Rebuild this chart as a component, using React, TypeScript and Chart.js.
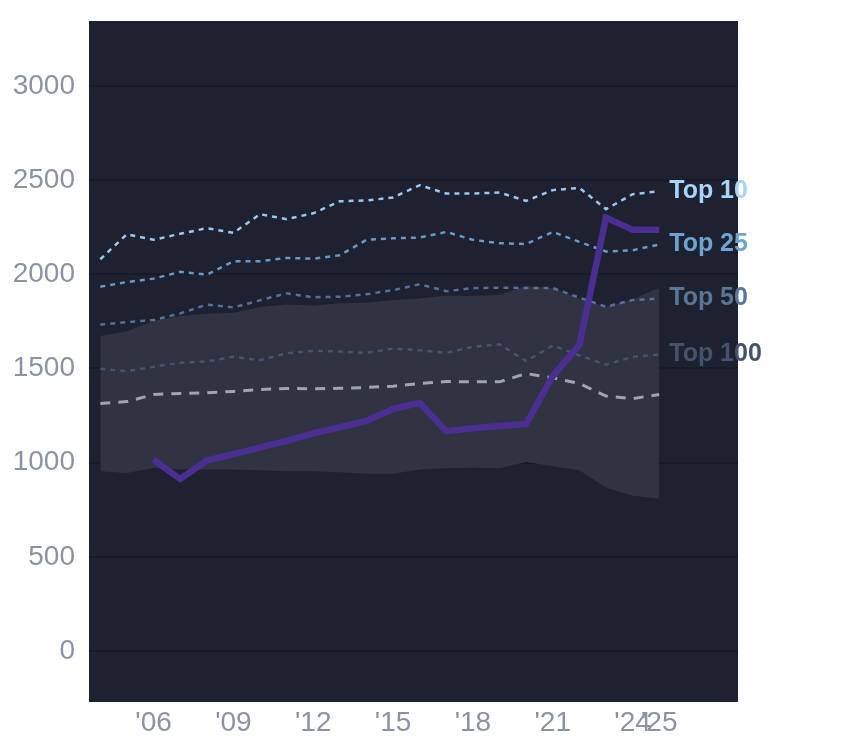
import { useEffect, useRef } from "react";
import { Chart, registerables } from "chart.js";

Chart.register(...registerables);

const years = [2004, 2005, 2006, 2007, 2008, 2009, 2010, 2011, 2012, 2013, 2014, 2015, 2016, 2017, 2018, 2019, 2020, 2021, 2022, 2023, 2024, 2025];
const xTicks = [2006, 2009, 2012, 2015, 2018, 2021, 2024, 2025];
const yTicks = [0, 500, 1000, 1500, 2000, 2500, 3000];

const top10 = [2080, 2213, 2183, 2215, 2245, 2220, 2319, 2293, 2324, 2388, 2392, 2408, 2473, 2429, 2429, 2434, 2390, 2447, 2459, 2346, 2425, 2441];
const top25 = [1934, 1959, 1977, 2013, 1998, 2069, 2069, 2087, 2083, 2101, 2183, 2191, 2195, 2225, 2183, 2165, 2161, 2225, 2172, 2121, 2128, 2158];
const top50 = [1733, 1746, 1757, 1792, 1839, 1824, 1862, 1899, 1878, 1881, 1894, 1916, 1947, 1910, 1927, 1929, 1927, 1927, 1876, 1828, 1863, 1871];
const top100 = [1498, 1486, 1509, 1530, 1537, 1562, 1544, 1580, 1594, 1590, 1583, 1605, 1597, 1583, 1615, 1628, 1539, 1622, 1569, 1520, 1562, 1574];
const median = [1314, 1324, 1362, 1367, 1371, 1378, 1388, 1394, 1392, 1395, 1399, 1406, 1420, 1431, 1429, 1429, 1473, 1450, 1420, 1353, 1340, 1362];
const bandHigh = [1672, 1697, 1752, 1778, 1791, 1796, 1826, 1839, 1835, 1846, 1849, 1863, 1871, 1888, 1885, 1892, 1938, 1927, 1871, 1828, 1867, 1929];
const bandLow = [954, 945, 972, 963, 963, 963, 959, 954, 954, 949, 941, 941, 963, 970, 973, 970, 1004, 981, 959, 867, 824, 810];
const selected = [null, null, 1016, 913, 1011, 1045, 1080, 1116, 1155, 1188, 1222, 1285, 1317, 1167, 1183, 1195, 1206, 1459, 1625, 2301, 2236, 2236];

const toPoints = (vals: (number | null)[]) => years.map((x, i) => ({ x, y: vals[i] }));

const bgPlugin = {
  id: "plotBg",
  beforeDraw(chart: any) {
    const { ctx, chartArea } = chart;
    ctx.save();
    ctx.fillStyle = "#1d2130";
    ctx.fillRect(chartArea.left, chartArea.top, chartArea.right - chartArea.left, chartArea.bottom - chartArea.top);
    ctx.restore();
  },
};

const endLabels = {
  id: "endLabels",
  afterDatasetsDraw(chart: any) {
    const ctx = chart.ctx;
    ctx.save();
    ctx.font = "bold 25px 'Liberation Sans', Arial, sans-serif";
    ctx.textAlign = "left";
    ctx.textBaseline = "middle";
    chart.data.datasets.forEach((ds: any, i: number) => {
      if (!ds.endLabel) return;
      const pts = chart.getDatasetMeta(i).data;
      const p = pts[pts.length - 1];
      ctx.fillStyle = ds.labelColor;
      ctx.fillText(ds.endLabel, p.x + 10, p.y);
    });
    ctx.restore();
  },
};

export default function App() {
  const canvasRef = useRef<HTMLCanvasElement>(null);

  useEffect(() => {
    if (!canvasRef.current) return;
    const dotted = (label: string, vals: number[], color: string, labelColor: string) => ({
      label,
      data: toPoints(vals),
      borderColor: color,
      borderWidth: 2.5,
      borderDash: [5, 5],
      pointRadius: 0,
      fill: false,
      order: 2,
      endLabel: label,
      labelColor,
    });

    const chart = new Chart(canvasRef.current, {
      type: "line",
      data: {
        datasets: [
          { label: "low", data: toPoints(bandLow), borderWidth: 0, borderColor: "transparent", pointRadius: 0, fill: false, order: 5 },
          { label: "high", data: toPoints(bandHigh), borderWidth: 0, borderColor: "transparent", backgroundColor: "#2f3342", pointRadius: 0, fill: "-1", order: 5 },
          dotted("Top 10", top10, "#98c8ee", "#a7d4f8"),
          dotted("Top 25", top25, "#6899c8", "#6fa4d0"),
          dotted("Top 50", top50, "#55709a", "#5a7596"),
          dotted("Top 100", top100, "#46536e", "#46526b"),
          { label: "median", data: toPoints(median), borderColor: "#9fa4b0", borderWidth: 3, borderDash: [10, 8], pointRadius: 0, fill: false, order: 2 },
          { label: "selected", data: toPoints(selected), borderColor: "#4b2e91", borderWidth: 6.5, pointRadius: 0, fill: false, order: 0, borderJoinStyle: "miter" },
        ] as any,
      },
      options: {
        responsive: true,
        maintainAspectRatio: false,
        animation: false,
        layout: { padding: { top: 21, right: 106, left: 0, bottom: 0 } },
        plugins: { legend: { display: false }, tooltip: { enabled: false } },
        scales: {
          x: {
            type: "linear",
            min: 2003.575,
            max: 2027.96,
            grid: { display: false, drawTicks: false },
            border: { display: false },
            afterBuildTicks: (axis: any) => { axis.ticks = xTicks.map((value) => ({ value })); },
            afterFit: (axis: any) => { axis.height = 46; axis.paddingLeft = 0; axis.paddingRight = 0; },
            ticks: {
              autoSkip: false,
              maxRotation: 0,
              padding: 4,
              color: "#8b93a3",
              font: { size: 28, family: "'Liberation Sans', Arial, sans-serif" },
              callback: (v: any) => "'" + String(v).slice(2),
            },
          },
          y: {
            min: -271,
            max: 3345,
            grid: { color: "#171b25", lineWidth: 2, drawTicks: false },
            border: { display: false },
            afterBuildTicks: (axis: any) => { axis.ticks = yTicks.map((value) => ({ value })); },
            afterFit: (axis: any) => { axis.width = 89; axis.paddingTop = 0; axis.paddingBottom = 0; },
            ticks: {
              padding: 14,
              color: "#8b93a3",
              font: { size: 28, family: "'Liberation Sans', Arial, sans-serif" },
              callback: (v: any) => String(v),
            },
          },
        },
      },
      plugins: [bgPlugin, endLabels],
    });

    return () => chart.destroy();
  }, []);

  return (
    <div style={{ position: "fixed", left: 0, top: 0, width: 844, height: 748, background: "#fff" }}>
      <canvas ref={canvasRef} />
    </div>
  );
}
